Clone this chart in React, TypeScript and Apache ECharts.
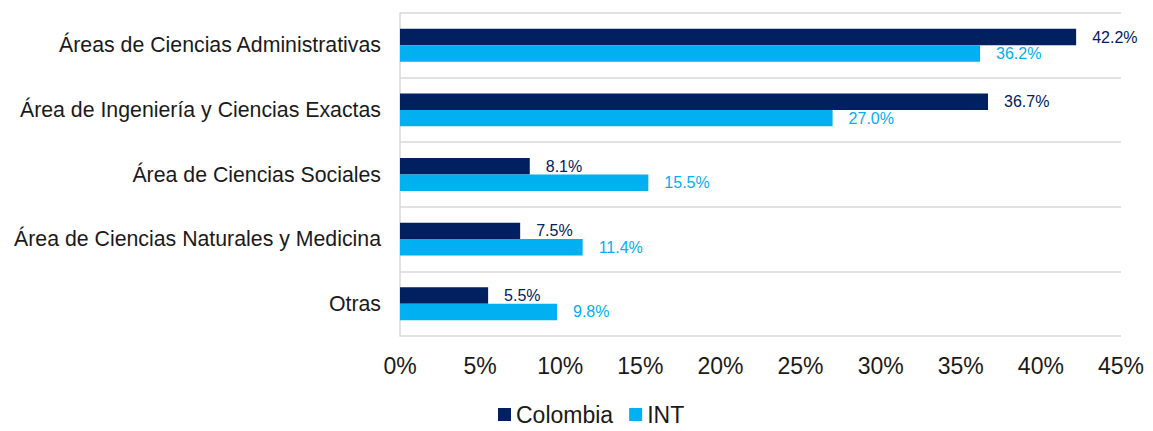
import React, { useEffect, useRef } from "react";
import * as echarts from "echarts";

const categories = [
  "Áreas de Ciencias Administrativas",
  "Área de Ingeniería y Ciencias Exactas",
  "Área de Ciencias Sociales",
  "Área de Ciencias Naturales y Medicina",
  "Otras",
];
const colombia = [42.2, 36.7, 8.1, 7.5, 5.5];
const intl = [36.2, 27.0, 15.5, 11.4, 9.8];
const seriesNames = ["Colombia", "INT"];
const colors = ["#002060", "#00B0F0"];

export default function App() {
  const ref = useRef<HTMLDivElement>(null);
  useEffect(() => {
    if (!ref.current) return;
    const chart = echarts.init(ref.current, undefined, { renderer: "svg" });
    const font = "'Liberation Sans', Arial, sans-serif";
    const mkSeries = (name: string, data: number[], color: string) => ({
      name,
      type: "bar",
      data,
      barGap: "0%",
      barCategoryGap: "49%",
      itemStyle: { color },
      label: {
        show: true,
        position: "right",
        distance: 16,
        color,
        fontSize: 16,
        fontFamily: font,
        formatter: (p: any) => p.value.toFixed(1) + "%",
      },
    });
    chart.setOption({
      animation: false,
      backgroundColor: "#ffffff",
      grid: { left: 400, right: 32, top: 13, bottom: 95, containLabel: false },
      legend: {
        left: 493,
        top: 398,
        itemWidth: 13,
        itemHeight: 13,
        itemGap: 16,
        icon: "rect",
        textStyle: { fontSize: 23, color: "#1a1a1a", fontFamily: font },
        data: seriesNames,
      },
      xAxis: {
        type: "value",
        min: 0,
        max: 45,
        interval: 5,
        axisLine: { show: false },
        axisTick: { show: false },
        splitLine: { show: false },
        axisLabel: {
          fontSize: 23,
          color: "#1a1a1a",
          fontFamily: font,
          margin: 18,
          formatter: (v: number) => v + "%",
        },
      },
      yAxis: {
        type: "category",
        data: categories,
        inverse: true,
        axisLine: { show: true, lineStyle: { color: "#d9d9d9", width: 1.5 } },
        axisTick: { show: false },
        splitLine: { show: true, lineStyle: { color: "#d9d9d9", width: 1.5 } },
        axisLabel: {
          fontSize: 21.3,
          color: "#1a1a1a",
          fontFamily: font,
          margin: 19,
        },
      },
      series: [
        mkSeries(seriesNames[0], colombia, colors[0]),
        mkSeries(seriesNames[1], intl, colors[1]),
      ],
    });
    return () => chart.dispose();
  }, []);
  return (
    <div
      ref={ref}
      style={{ position: "fixed", left: 0, top: 0, width: 1153, height: 431 }}
    />
  );
}
